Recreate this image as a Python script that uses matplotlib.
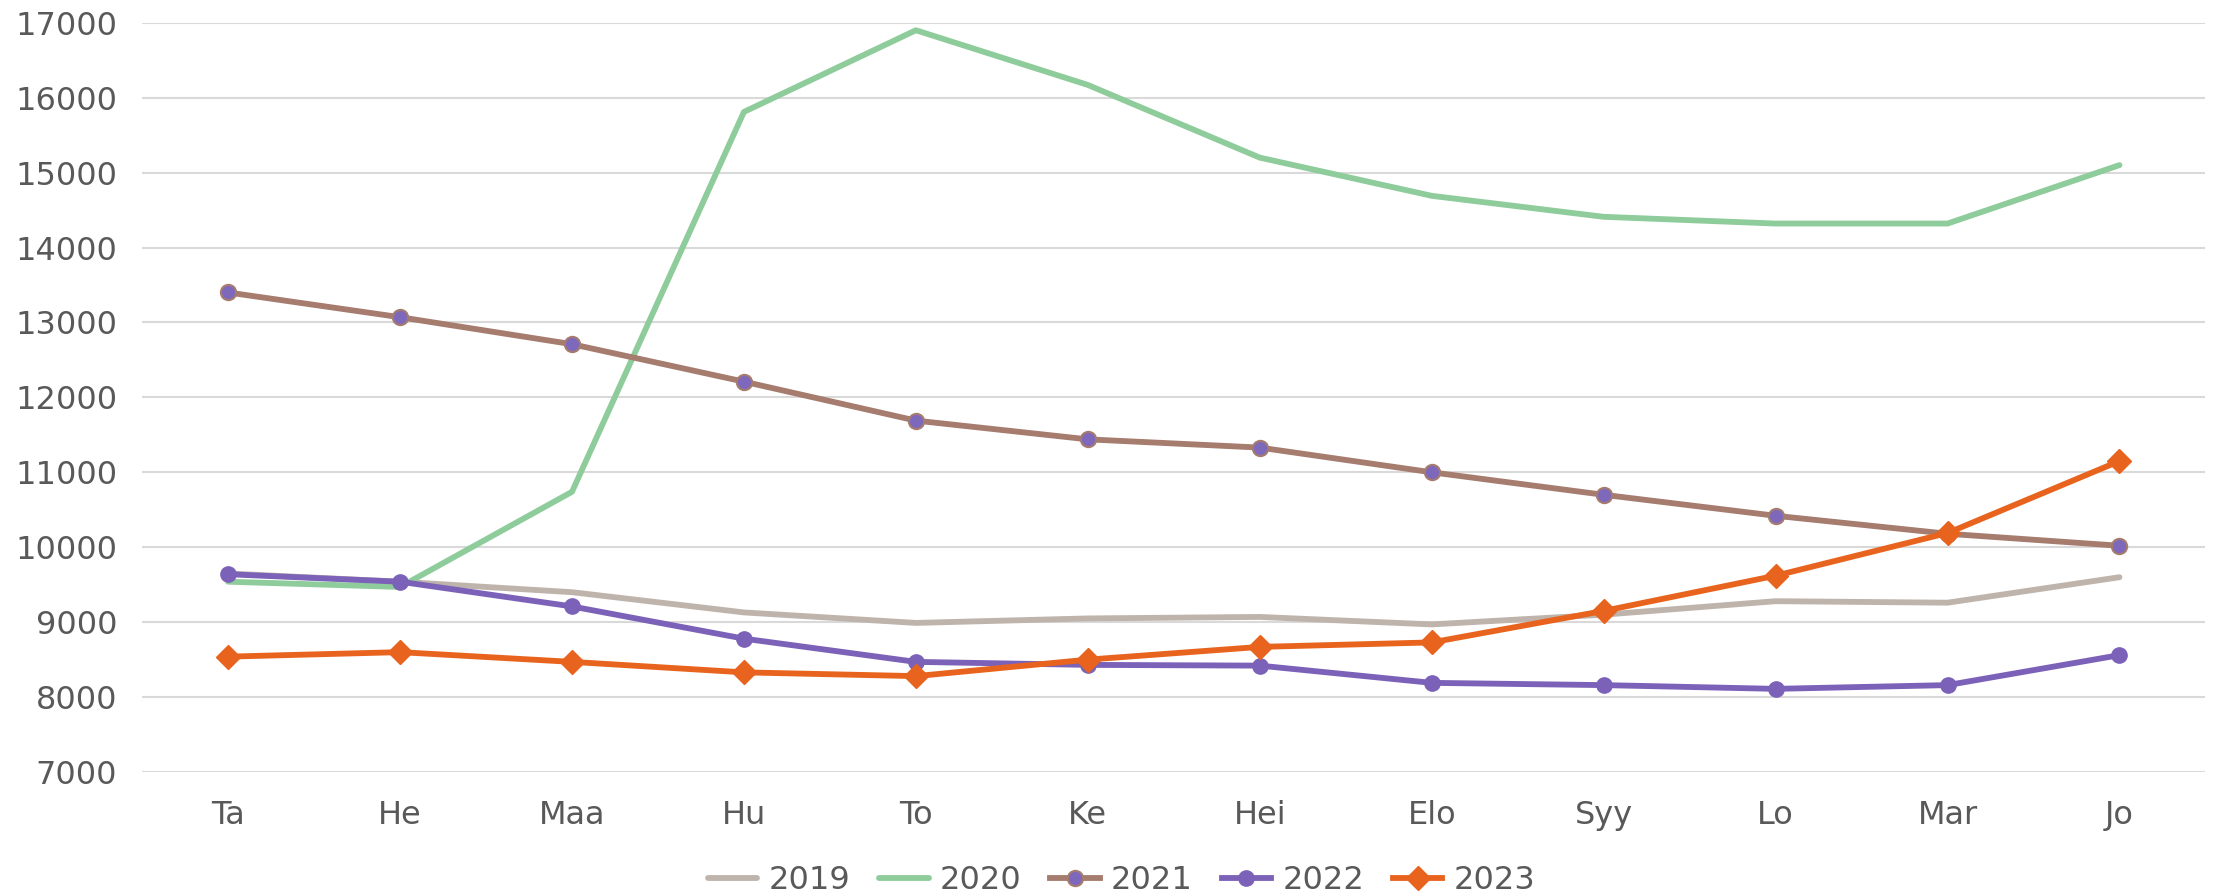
import matplotlib.pyplot as plt

# ==========================
# Data
# ==========================

months = ["Ta", "He", "Maa", "Hu", "To", "Ke", "Hei", "Elo", "Syy", "Lo", "Mar", "Jo"]

y2019 = [9650, 9540, 9400, 9130, 8990, 9050, 9070, 8970, 9100, 9280, 9260, 9600]
y2020 = [9540, 9470, 10740, 15810, 16900, 16170, 15200, 14690, 14410, 14320, 14320, 15100]
y2021 = [13400, 13070, 12710, 12210, 11690, 11440, 11330, 11000, 10700, 10420, 10180, 10020]
y2022 = [9640, 9540, 9210, 8780, 8470, 8430, 8420, 8190, 8160, 8110, 8160, 8560]
y2023 = [8540, 8600, 8470, 8330, 8280, 8500, 8670, 8730, 9150, 9620, 10190, 11150]

# ==========================
# Plot
# ==========================

fig = plt.figure(figsize=(22.21, 8.92), dpi=100)
ax = fig.add_axes([0.064, 0.1345, 0.929, 0.84])

x = list(range(len(months)))
lw = 4.2

ax.plot(x, y2019, color="#BFB4AC", linewidth=lw, solid_capstyle="round", label="2019", zorder=3)
ax.plot(x, y2020, color="#8FCC9B", linewidth=lw, solid_capstyle="round", label="2020", zorder=3)
ax.plot(x, y2021, color="#A57C6E", linewidth=lw, marker="o", markersize=11,
        markerfacecolor="#7E68BC", markeredgecolor="#A57C6E", markeredgewidth=1.5,
        label="2021", zorder=4)
ax.plot(x, y2022, color="#7B62B8", linewidth=lw, marker="o", markersize=11,
        markerfacecolor="#7B62B8", markeredgecolor="#7B62B8",
        label="2022", zorder=5)
ax.plot(x, y2023, color="#E8641E", linewidth=lw, marker="D", markersize=12,
        markerfacecolor="#E8641E", markeredgecolor="#E8641E",
        label="2023", zorder=6)

ax.set_xlim(-0.5, len(months) - 0.5)
ax.set_ylim(7000, 17000)
ax.set_yticks(range(7000, 17001, 1000))
ax.set_xticks(x)
ax.set_xticklabels(months)

ax.grid(axis="y", color="#D9D9D9", linewidth=1.5, zorder=0)
ax.set_axisbelow(True)
for s in ax.spines.values():
    s.set_visible(False)

ax.tick_params(axis="both", length=0, labelsize=23, labelcolor="#595959")
ax.tick_params(axis="y", pad=18)
ax.tick_params(axis="x", pad=20)

fig.legend(loc="lower center", bbox_to_anchor=(0.505, -0.037), ncol=5, frameon=False,
           fontsize=23, labelcolor="#595959", handlelength=1.55, handletextpad=0.35,
           columnspacing=0.9)

fig.savefig("out.png", dpi=100)
